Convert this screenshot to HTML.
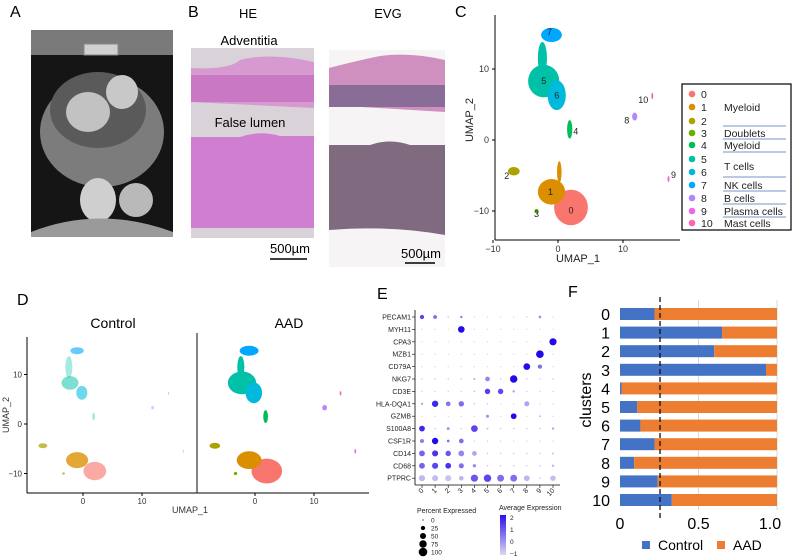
<!DOCTYPE html>
<html><head><meta charset="utf-8"><style>
html,body{margin:0;padding:0;background:#fff;}
svg{display:block;font-family:"Liberation Sans",Arial,sans-serif;}
</style></head><body>
<svg id="fig" width="793" height="558" viewBox="0 0 793 558" xmlns="http://www.w3.org/2000/svg">
<defs>
<linearGradient id="expgrad" x1="0" y1="1" x2="0" y2="0"><stop offset="0" stop-color="#dcd6ef"/><stop offset="1" stop-color="#2a10f0"/></linearGradient>
<clipPath id="clipL"><rect x="28" y="330" width="168" height="162"/></clipPath>
<clipPath id="clipR"><rect x="199" y="330" width="170" height="162"/></clipPath>
</defs>

<!-- Panel A -->
<g>
<text x="10" y="17" font-size="16">A</text>
<rect x="31" y="30" width="142" height="207" fill="#151515"/>
<rect x="31" y="30" width="142" height="25" fill="#7a7a7a"/>
<rect x="84" y="44" width="34" height="11" fill="#d0d0d0" stroke="#888"/>
<ellipse cx="102" cy="132" rx="62" ry="55" fill="#7c7c7c"/>
<ellipse cx="98" cy="110" rx="48" ry="38" fill="#5a5a5a"/>
<ellipse cx="88" cy="112" rx="22" ry="20" fill="#c2c2c2"/>
<ellipse cx="122" cy="92" rx="16" ry="17" fill="#c8c8c8"/>
<ellipse cx="98" cy="200" rx="18" ry="22" fill="#cfcfcf"/>
<ellipse cx="136" cy="200" rx="17" ry="17" fill="#b9b9b9"/>
<path d="M31 232 Q100 205 173 232 L173 237 L31 237Z" fill="#9a9a9a"/>
</g>

<!-- Panel B -->
<g>
<text x="188" y="17" font-size="16">B</text>
<text x="248" y="18" font-size="13" text-anchor="middle">HE</text>
<text x="388" y="18" font-size="13" text-anchor="middle">EVG</text>
<rect x="191" y="48" width="123" height="190" fill="#d9d3d9"/>
<path d="M191 68 Q230 70 240 60 Q270 52 314 62 L314 108 L191 102Z" fill="#d69ad0"/>
<rect x="191" y="75" width="123" height="27" fill="#c978c4"/>
<rect x="191" y="111" width="123" height="22" fill="#d9d3d9"/>
<path d="M191 137 L240 137 Q260 130 280 136 L314 136 L314 228 L191 228Z" fill="#d07fd0"/>
<text x="249" y="45" font-size="13" text-anchor="middle">Adventitia</text>
<text x="250" y="127" font-size="13" text-anchor="middle">False lumen</text>
<rect x="329" y="50" width="116" height="217" fill="#f6f4f5"/>
<path d="M329 68 Q360 60 380 56 Q410 52 445 60 L445 112 L329 105Z" fill="#cf8fbf"/>
<rect x="329" y="85" width="116" height="22" fill="#8a6d96"/>
<path d="M329 145 L370 145 Q390 138 410 145 L445 145 L445 235 Q390 225 329 230Z" fill="#7f6a80"/>
<text x="290" y="253" font-size="13" text-anchor="middle">500µm</text>
<line x1="270" y1="259" x2="307" y2="259" stroke="#000" stroke-width="1.5"/>
<text x="421" y="258" font-size="13" text-anchor="middle">500µm</text>
<line x1="405" y1="263" x2="435" y2="263" stroke="#000" stroke-width="1.5"/>
</g>

<!-- Panel C -->
<g id="panelC">
<text x="455" y="17" font-size="16">C</text>
<line x1="495" y1="15" x2="495" y2="240" stroke="#000" stroke-width="1"/>
<line x1="495" y1="240" x2="680" y2="240" stroke="#000" stroke-width="1"/>
<text x="578" y="262" font-size="11" text-anchor="middle" fill="#222">UMAP_1</text>
<text x="0" y="0" font-size="11" text-anchor="middle" fill="#222" transform="translate(473,120) rotate(-90)">UMAP_2</text>
<rect x="682" y="84" width="109" height="146" fill="#fff" stroke="#000" stroke-width="1.2"/>
</g>

<!-- Panel D -->
<g id="panelD">
<text x="17" y="305" font-size="16">D</text>
<text x="113" y="328" font-size="14" text-anchor="middle">Control</text>
<text x="289" y="328" font-size="14" text-anchor="middle">AAD</text>
<line x1="27" y1="337" x2="27" y2="493" stroke="#000"/>
<line x1="27" y1="493" x2="369" y2="493" stroke="#000"/>
<line x1="197" y1="333" x2="197" y2="493" stroke="#333" stroke-width="1.2"/>
<text x="190" y="513" font-size="9" text-anchor="middle" fill="#333">UMAP_1</text>
<text x="0" y="0" font-size="9" text-anchor="middle" fill="#333" transform="translate(9,415) rotate(-90)">UMAP_2</text>
</g>

<!-- Panel E -->
<g id="panelE">
<text x="377" y="299" font-size="16">E</text>
<line x1="415" y1="310" x2="415" y2="485" stroke="#000" stroke-width="0.8"/>
<line x1="415" y1="485" x2="560" y2="485" stroke="#000" stroke-width="0.8"/>
<text x="417" y="513" font-size="7" fill="#222">Percent Expressed</text>
<text x="499" y="510" font-size="7" fill="#222">Average Expression</text>
<rect x="500" y="515" width="6" height="40" fill="url(#expgrad)"/>
</g>

<!-- Panel F -->
<g id="panelF">
<text x="568" y="297" font-size="16">F</text>
<text x="0" y="0" font-size="16" text-anchor="middle" transform="translate(591,400) rotate(-90)">clusters</text>
</g>
</svg>
<script>
const NS='http://www.w3.org/2000/svg';
function mk(parent,tag,attrs,text){const e=document.createElementNS(NS,tag);for(const k in attrs)e.setAttribute(k,attrs[k]);if(text!==undefined)e.textContent=text;parent.appendChild(e);return e;}

/* ---------- UMAP data (panels C, D) ---------- */
const clusterIds=[0,1,2,3,4,5,6,7,8,9,10];
const clusterColors=['#F8766D','#DB8E00','#AEA200','#64B200','#00BD5C','#00C1A7','#00BADE','#00A6FF','#B385FF','#EF67EB','#FF63B6'];
const umapX=[2.0,-1.0,-6.8,-3.3,1.8,-2.2,-0.2,-1.0,11.8,17.0,14.5];
const umapY=[-9.5,-7.3,-4.4,-10.0,1.5,8.3,6.3,14.8,3.3,-5.5,6.2];
const umapRx=[2.6,2.1,0.9,0.3,0.4,2.4,1.4,1.6,0.4,0.15,0.15];
const umapRy=[2.5,1.8,0.6,0.3,1.3,2.3,2.1,1.0,0.55,0.45,0.45];
const legendNames=['','Myeloid','','Doublets','Myeloid','T cells','','NK cells','B cells','Plasma cells','Mast cells'];
const controlShare=[0.55,0.8,0.7,0.6,0.05,0.35,0.45,0.5,0.3,0.4,0.4];

const C=document.getElementById('panelC');
const cx=u=>558+6.5*u, cy=v=>140-7.1*v;
[-10,0,10].forEach(t=>{const x=cx(t);mk(C,'line',{x1:x,y1:240,x2:x,y2:243,stroke:'#000'});const tx=mk(C,'text',{x:x,y:252,'font-size':9,'text-anchor':'middle',fill:'#333'},t===-10?'−10':String(t));

});
[-10,0,10].forEach(t=>{const y=cy(t);mk(C,'line',{x1:492,y1:y,x2:495,y2:y,stroke:'#000'});const tx=mk(C,'text',{x:489,y:y+3,'font-size':9,'text-anchor':'end',fill:'#333'},t===-10?'−10':String(t));

});
mk(C,'ellipse',{cx:cx(-2.4),cy:cy(11.5),rx:6.5*0.7,ry:7.1*2.3,fill:clusterColors[5]});
mk(C,'ellipse',{cx:cx(0.2),cy:cy(-4.5),rx:6.5*0.35,ry:7.1*1.5,fill:clusterColors[1]});
clusterIds.forEach(i=>{
  const e=mk(C,'ellipse',{cx:cx(umapX[i]),cy:cy(umapY[i]),rx:6.5*umapRx[i],ry:7.1*umapRy[i],fill:clusterColors[i]});
  
  
});
const labOff=[[0,3],[-1,0],[-7,5],[0,3],[6,2],[0,0],[0,0],[-2,-3],[-8,4],[5,-4],[-9,4]];
clusterIds.forEach(i=>{
  const t=mk(C,'text',{x:cx(umapX[i])+labOff[i][0],y:cy(umapY[i])+3+labOff[i][1],'font-size':9,'text-anchor':'middle',fill:'#222'},String(i));
  
  
});
const rowY=[94,107,121,133,145,159,172,185,198,211,223];
clusterIds.forEach(i=>{
  const g=mk(C,'g',{});
  
  
  mk(g,'circle',{cx:692,cy:rowY[i],r:3.3,fill:clusterColors[i]});
  mk(g,'text',{x:701,y:rowY[i]+4,'font-size':10.5,fill:'#222'},String(i));
});
const nameY=[[1,107],[3,133],[4,145],[5,166],[7,185],[8,198],[9,211],[10,223]];
nameY.forEach(([i,y])=>{const t=mk(C,'text',{x:724,y:y+4,'font-size':10.5,fill:'#222'},legendNames[i]);

});
[126,139,152,177,191,204,217].forEach(y=>mk(C,'line',{x1:723,y1:y,x2:786,y2:y,stroke:'#4a6fb0','stroke-width':0.8}));

/* Panel D */
const D=document.getElementById('panelD');
const dy=v=>424-4.95*v;
[[83,'clipL',true],[255,'clipR',false]].forEach(([x0,clip,isCtl])=>{
  const dx=u=>x0+5.9*u;
  const g=mk(D,'g',{'clip-path':'url(#'+clip+')'});
  
  
  mk(g,'ellipse',{cx:dx(-2.4),cy:dy(11.5),rx:5.9*0.6,ry:4.95*2.2,fill:clusterColors[5],opacity:isCtl?0.35:1});
  clusterIds.forEach(i=>{
    const s=isCtl?Math.sqrt(controlShare[i]):1;
    const e=mk(g,'ellipse',{cx:dx(umapX[i]),cy:dy(umapY[i]),rx:5.9*umapRx[i]*Math.max(s,0.6),ry:4.95*umapRy[i]*Math.max(s,0.6),fill:clusterColors[i],opacity:isCtl?(0.3+0.6*controlShare[i]):1});
    
    
  });
  [0,10].forEach(t=>{mk(D,'line',{x1:dx(t),y1:493,x2:dx(t),y2:496,stroke:'#000'});mk(D,'text',{x:dx(t),y:504,'font-size':8,'text-anchor':'middle',fill:'#333'},String(t));});
});
[-10,0,10].forEach(t=>{mk(D,'line',{x1:24,y1:dy(t),x2:27,y2:dy(t),stroke:'#000'});mk(D,'text',{x:22,y:dy(t)+3,'font-size':8,'text-anchor':'end',fill:'#333'},t===-10?'−10':String(t));});

/* ---------- Dot plot (panel E) ---------- */
const genes=['PECAM1','MYH11','CPA3','MZB1','CD79A','NKG7','CD3E','HLA-DQA1','GZMB','S100A8','CSF1R','CD14','CD68','PTPRC'];
const dotClusters=['0','1','2','3','4','5','6','7','8','9','10'];
const pctExpr=[
 [25,20,3,8,2,2,2,2,3,10,2],
 [2,2,2,60,2,2,2,2,2,2,2],
 [1,1,1,1,1,1,1,1,1,1,70],
 [1,1,1,1,1,1,1,1,1,80,1],
 [1,1,1,1,1,1,1,1,60,25,1],
 [3,3,3,3,6,30,3,75,3,3,3],
 [2,2,2,2,3,40,40,8,2,2,2],
 [8,55,30,40,3,3,2,2,35,2,2],
 [2,2,2,2,2,12,2,45,2,5,2],
 [45,3,12,3,60,5,3,3,3,3,8],
 [22,55,10,30,2,2,2,2,2,2,2],
 [45,50,40,45,30,3,3,3,3,3,5],
 [45,50,45,35,15,3,3,3,3,3,8],
 [50,50,50,30,70,75,65,65,45,5,40]];
const avgExpr=[
 [1.5,0.8,-0.5,0.5,-0.8,-0.8,-0.8,-0.8,-0.6,0.2,-0.8],
 [-0.8,-0.8,-0.8,2.5,-0.8,-0.8,-0.8,-0.8,-0.8,-0.8,-0.8],
 [-0.8,-0.8,-0.8,-0.8,-0.8,-0.8,-0.8,-0.8,-0.8,-0.8,2.5],
 [-0.8,-0.8,-0.8,-0.8,-0.8,-0.8,-0.8,-0.8,-0.8,2.5,-0.8],
 [-0.8,-0.8,-0.8,-0.8,-0.8,-0.8,-0.8,-0.8,2.5,0.8,-0.8],
 [-0.6,-0.6,-0.6,-0.6,-0.2,0.4,-0.5,2.5,-0.6,-0.6,-0.6],
 [-0.6,-0.6,-0.6,-0.6,-0.4,1.6,1.4,-0.1,-0.6,-0.6,-0.6],
 [-0.2,2.0,0.7,0.8,-0.6,-0.6,-0.6,-0.6,-0.1,-0.6,-0.6],
 [-0.6,-0.6,-0.6,-0.6,-0.6,0.3,-0.6,2.5,-0.6,-0.4,-0.6],
 [2.0,-0.6,0.1,-0.6,1.5,-0.5,-0.6,-0.6,-0.6,-0.6,-0.2],
 [0.5,2.5,0.8,0.8,-0.6,-0.6,-0.6,-0.6,-0.6,-0.6,-0.6],
 [1.0,1.8,1.2,0.4,-0.1,-0.6,-0.6,-0.6,-0.6,-0.6,-0.5],
 [1.0,1.5,1.8,0.8,0.3,-0.6,-0.6,-0.6,-0.6,-0.6,-0.3],
 [-0.4,-0.5,-0.6,-0.4,1.2,1.5,0.8,0.8,-0.4,-1.0,-0.5]];
const sizeLegend=[0,25,50,75,100];
const colorLegend=['2','1','0','−1'];

const E=document.getElementById('panelE');
const ex=j=>422+13.1*j, ey=i=>317+12.4*i;
const rad=p=>Math.max(0.6,4.3*Math.sqrt(p/100));
function expCol(v){let t=(v+1)/3.5;t=Math.max(0,Math.min(1,t));const a=[222,218,240],b=[34,10,236];return 'rgb('+a.map((c,k)=>Math.round(c+(b[k]-c)*t)).join(',')+')';}
genes.forEach((g,i)=>{
  const t=mk(E,'text',{x:411,y:ey(i)+2.5,'font-size':7,'text-anchor':'end',fill:'#222'},g);
  
  
  mk(E,'line',{x1:412,y1:ey(i),x2:415,y2:ey(i),stroke:'#000','stroke-width':0.6});
  dotClusters.forEach((c,j)=>{
    const d=mk(E,'circle',{cx:ex(j),cy:ey(i),r:rad(pctExpr[i][j]),fill:expCol(avgExpr[i][j])});
    
    
  });
});
dotClusters.forEach((c,j)=>{
  mk(E,'line',{x1:ex(j),y1:485,x2:ex(j),y2:488,stroke:'#000','stroke-width':0.6});
  const t=mk(E,'text',{x:0,y:0,'font-size':7,'text-anchor':'end',fill:'#222',transform:'translate('+(ex(j)+2)+',491) rotate(-45)'},c);
  
  
});
sizeLegend.forEach((p,k)=>{
  const y=520+8*k;
  const d=mk(E,'circle',{cx:423,cy:y,r:rad(p),fill:'#000'});
  
  
  mk(E,'text',{x:431,y:y+2.5,'font-size':6.5,fill:'#222'},String(p));
});
colorLegend.forEach((l,k)=>{mk(E,'text',{x:510,y:520+12*k,'font-size':6.5,fill:'#222'},l);});

/* ---------- Stacked bars (panel F) ---------- */
const barClusters=['0','1','2','3','4','5','6','7','8','9','10'];
const controlFrac=[0.22,0.65,0.60,0.93,0.01,0.11,0.13,0.22,0.09,0.24,0.33];
const xTicks=[0,0.5,1.0];
const xTickLabels=['0','0.5','1.0'];
const thresholdValue=0.255;

const F=document.getElementById('panelF');
const fx=v=>620+157*v, fy=i=>314+18.6*i;
xTicks.forEach(v=>{if(v>0)mk(F,'line',{x1:fx(v),y1:300,x2:fx(v),y2:510,stroke:'#d9d9d9','stroke-width':1});});
barClusters.forEach((c,i)=>{
  const c1=mk(F,'rect',{x:fx(0),y:fy(i)-6,width:fx(controlFrac[i])-fx(0),height:12,fill:'#4472C4'});
  
  
  const c2=mk(F,'rect',{x:fx(controlFrac[i]),y:fy(i)-6,width:fx(1)-fx(controlFrac[i]),height:12,fill:'#ED7D31'});
  
  
  const t=mk(F,'text',{x:610,y:fy(i)+6,'font-size':16,'text-anchor':'end',fill:'#000'},c);
  
  
});
const dl=mk(F,'line',{x1:fx(thresholdValue),y1:297,x2:fx(thresholdValue),y2:520,stroke:'#111','stroke-width':1.3,'stroke-dasharray':'5,3'});


xTicks.forEach((v,k)=>{const t=mk(F,'text',{x:k===2?fx(v)-7:fx(v),y:529,'font-size':16,'text-anchor':'middle',fill:'#000'},xTickLabels[k]);

});
const lg=mk(F,'g',{});


mk(lg,'rect',{x:642,y:541,width:8,height:8,fill:'#4472C4'});
mk(lg,'text',{x:658,y:550,'font-size':14,fill:'#000'},'Control');
mk(lg,'rect',{x:717,y:541,width:8,height:8,fill:'#ED7D31'});
mk(lg,'text',{x:733,y:550,'font-size':14,fill:'#000'},'AAD');
</script>
</body></html>
